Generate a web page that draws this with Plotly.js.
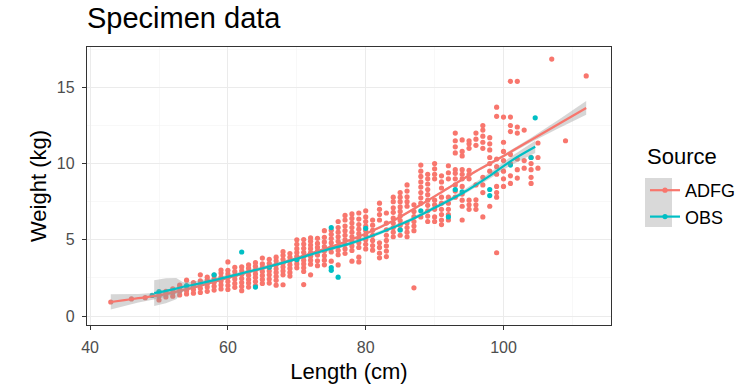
<!DOCTYPE html>
<html>
<head>
<meta charset="utf-8">
<script src="https://cdn.plot.ly/plotly-3.0.1.min.js"></script>
<style>html,body{margin:0;padding:0;background:#fff;}#chart{width:735px;height:388px;}</style>
</head>
<body>
<div id="chart"></div>
<script>
// ---- Data ----
const adfgLengths = [43,46,48,50,51,52,53,54,55,56,57,58,59,60,61,62,63,64,65,66,67,68,69,70,71,72,73,74,75,76,77,78,79,80,81,82,83,84,85,86,87,88,89,90,91,92,93,94,95,96,97,98,99,100,101,102,103,104,105,107,109,112];
const adfgWeights = [
  [0.92],[1.12],[1.2],
  [1.05,1.32,1.48],
  [1.25,1.5,1.62],
  [1.3,1.52,1.78],
  [1.38,1.62,1.84,2.02],
  [1.45,1.68,1.95,2.35],
  [1.5,1.74,1.97,2.2],
  [1.55,1.82,2.06,2.31,2.7],
  [1.62,1.9,2.12,2.36,2.55],
  [1.7,1.96,2.21,2.44,2.68],
  [1.78,2.04,2.3,2.55,2.82,3.02],
  [1.74,2.0,2.26,2.52,2.76,3.0,3.55],
  [1.88,2.14,2.42,2.66,2.92,3.2],
  [1.66,1.94,2.2,2.46,2.72,2.97,3.22],
  [1.9,2.16,2.4,2.67,2.9,3.14,3.36],
  [2.0,2.26,2.52,2.76,3.02,3.26,3.5],
  [2.14,2.4,2.66,2.92,3.16,3.42,3.8],
  [2.16,2.42,2.7,2.96,3.22,3.46,3.72],
  [2.02,2.34,2.6,2.86,3.1,3.36,3.62,3.86],
  [2.05,2.7,2.96,3.22,3.46,3.72,3.98,4.22],
  [2.62,2.86,3.12,3.36,3.62,3.86,4.1],
  [3.16,3.42,3.66,3.92,4.16,4.42,4.7,5.0],
  [2.06,2.92,3.16,3.42,3.66,3.92,4.18,4.44,4.72,5.02],
  [2.7,3.4,3.66,3.92,4.16,4.42,4.66,4.9,5.12],
  [3.3,3.62,4.0,4.26,4.5,4.76,5.1],
  [3.36,3.66,3.96,4.26,4.56,4.86,5.16,5.6],
  [3.6,4.2,4.5,4.8,5.08,5.36,5.62],
  [3.35,4.02,4.3,4.6,4.9,5.2,5.5,5.8,6.2],
  [4.1,4.4,4.7,5.0,5.3,5.6,5.9,6.3,6.6],
  [3.6,4.3,4.6,4.9,5.2,5.5,5.8,6.1,6.4,6.7],
  [3.55,3.86,4.5,4.8,5.1,5.4,5.7,6.0,6.36,6.76],
  [4.4,4.7,5.0,5.3,5.6,5.9,6.2,6.5,6.9],
  [4.32,4.62,4.96,5.3,5.62,5.96,6.3],
  [3.82,4.12,4.5,4.8,6.3,6.66,7.0,7.4],
  [3.9,4.26,4.6,4.96,5.3,5.66,6.1,6.76],
  [5.2,5.5,5.8,6.1,6.42,6.8,7.1,7.5,7.8],
  [5.3,5.66,5.96,6.26,6.56,6.86,7.16,7.5,7.8,8.1],
  [5.2,5.5,5.8,6.1,7.2,7.5,7.82,8.2,8.6],
  [1.85,5.6,5.9,6.2,6.52,6.86,7.3],
  [6.5,7.4,7.76,8.1,8.46,8.8,9.16,9.5,9.9],
  [6.2,6.56,6.9,7.26,7.6,7.96,8.3,8.66,9.0,9.3],
  [6.2,6.5,7.0,7.3,7.6,9.0,9.3,9.66,10.0],
  [6.0,6.3,6.66,7.0,7.4,7.8,8.4,8.8,9.2],
  [6.3,6.66,7.0,7.4,7.8,9.0,9.4,9.86],
  [7.8,8.2,8.6,9.0,9.36,9.6,10.7,11.1,11.5,12.0],
  [6.3,7.2,7.6,8.0,8.5,9.0,9.3,9.6,10.5,10.8,11.55],
  [7.0,7.3,7.6,9.0,9.3,9.56,11.0,11.3,11.5],
  [7.0,7.3,7.62,8.6,11.2,11.6,12.0],
  [6.5,8.1,8.6,9.1,11.0,11.4,11.8,12.2,12.5],
  [7.2,9.5,10.0,10.4,10.9,11.3,11.7],
  [4.15,7.8,8.1,8.5,9.3,9.8,10.3,13.1,13.7],
  [8.5,9.0,9.5,10.2,10.8,11.4,13.05],
  [8.7,9.2,10.0,10.6,12.1,12.5,13.05,15.4],
  [9.05,9.6,10.3,12.0,12.4,15.4],
  [9.7,10.2,12.2],
  [8.7,9.1,9.6,10.0,10.4],
  [9.7,10.4,11.35],
  [16.86],[11.5],[15.75]
];

const obsLength = [49,50,54,58,62,64,66,70,75,75,75,76,80,85,88,92,93,94,98,98,101,104,104.6];
const obsWeight = [1.35,1.6,2.0,2.7,4.2,1.9,3.2,3.7,5.8,3.0,3.18,2.55,5.75,5.65,6.9,6.5,8.3,8.15,7.9,8.3,9.9,10.4,13.0];

// smoothed fits (loess) with standard-error band
const adfgFitX  = [43,45,47,50,53,56,60,64,68,72,76,80,84,88,92,96,100,104,108,112];
const adfgFitY  = [0.92,1.04,1.17,1.35,1.65,1.98,2.5,3.0,3.5,4.1,4.7,5.4,6.25,7.3,8.4,9.5,10.5,11.55,12.6,13.65];
const adfgFitSE = [0.5,0.38,0.28,0.2,0.13,0.1,0.08,0.08,0.08,0.08,0.08,0.08,0.08,0.08,0.08,0.09,0.1,0.15,0.28,0.45];

const obsFitX  = [49.3,51,52.5,53.5,55,58,62,66,70,74,78,82,86,90,94,98,101,104.6];
const obsFitY  = [1.5,1.65,1.8,1.92,2.05,2.35,2.8,3.25,3.75,4.3,4.8,5.45,6.2,7.1,8.05,9.2,10.15,11.1];
const obsFitSE = [0.85,0.82,0.7,0.3,0.22,0.15,0.12,0.12,0.12,0.12,0.12,0.12,0.12,0.13,0.15,0.2,0.28,0.4];

const sources = ['ADFG','OBS'];
const colors = {ADFG:'#F8766D', OBS:'#00BFC4'};

// ---- Build traces ----
const adfgX = [], adfgY = [];
adfgLengths.forEach((L,i)=>adfgWeights[i].forEach(w=>{adfgX.push(L); adfgY.push(w);}));

function band(ys, se, sign){ return ys.map((y,i)=>y+sign*se[i]); }

const ribbonFill = 'rgba(153,153,153,0.4)';
const traces = [
  {x:adfgX, y:adfgY, type:'scatter', mode:'markers', showlegend:false, hoverinfo:'skip',
   marker:{color:colors.ADFG, size:5.2}},
  {x:obsLength, y:obsWeight, type:'scatter', mode:'markers', showlegend:false, hoverinfo:'skip',
   marker:{color:colors.OBS, size:5.2}},
  {x:adfgFitX, y:band(adfgFitY,adfgFitSE,-1), type:'scatter', mode:'lines', line:{width:0}, showlegend:false, hoverinfo:'skip'},
  {x:adfgFitX, y:band(adfgFitY,adfgFitSE,1), type:'scatter', mode:'lines', line:{width:0}, fill:'tonexty', fillcolor:ribbonFill, showlegend:false, hoverinfo:'skip'},
  {x:adfgFitX, y:adfgFitY, type:'scatter', mode:'lines', line:{color:colors.ADFG, width:2.2, shape:'spline'}, showlegend:false},
  {x:obsFitX, y:band(obsFitY,obsFitSE,-1), type:'scatter', mode:'lines', line:{width:0}, showlegend:false, hoverinfo:'skip'},
  {x:obsFitX, y:band(obsFitY,obsFitSE,1), type:'scatter', mode:'lines', line:{width:0}, fill:'tonexty', fillcolor:ribbonFill, showlegend:false, hoverinfo:'skip'},
  {x:obsFitX, y:obsFitY, type:'scatter', mode:'lines', line:{color:colors.OBS, width:2.2, shape:'spline'}, showlegend:false},
  // legend entries
  {x:[null], y:[null], type:'scatter', mode:'lines+markers', name:sources[0], line:{color:colors.ADFG, width:2.2}, marker:{color:colors.ADFG, size:5.2}},
  {x:[null], y:[null], type:'scatter', mode:'lines+markers', name:sources[1], line:{color:colors.OBS, width:2.2}, marker:{color:colors.OBS, size:5.2}}
];

const W = 735, H = 388, ml = 87, mr = 124, mt = 47, mb = 63;
const pw = W-ml-mr, ph = H-mt-mb;
const px = v => (v-ml)/pw, py = v => 1-(v-mt)/ph;

const font = 'Liberation Sans, Arial, Helvetica, sans-serif';
const layout = {
  width:W, height:H,
  margin:{l:ml, r:mr, t:mt, b:mb, pad:0, autoexpand:false},
  paper_bgcolor:'#fff', plot_bgcolor:'#fff',
  font:{family:font, color:'#000'},
  title:{text:'Specimen data', font:{size:29, color:'#000', family:font}, xref:'paper', x:0, xanchor:'left', yref:'container', y:1-18/H, yanchor:'middle'},
  xaxis:{range:[39.55,115.6], tick0:0, dtick:20, ticks:'outside', ticklen:4, tickwidth:1, tickcolor:'#333',
    tickfont:{size:16, color:'#4d4d4d'}, ticklabelstandoff:4, showline:true, mirror:true, linecolor:'#333', linewidth:1.2,
    showgrid:true, gridcolor:'#ebebeb', gridwidth:1, zeroline:false,
    minor:{dtick:10, tick0:0, showgrid:true, gridcolor:'#f4f4f4', gridwidth:0.6},
    title:{text:'Length (cm)', font:{size:22, color:'#000'}, standoff:8}},
  yaxis:{range:[-0.59,17.65], tick0:0, dtick:5, ticks:'outside', ticklen:4, tickwidth:1, tickcolor:'#333',
    tickfont:{size:16, color:'#4d4d4d'}, ticklabelstandoff:4, showline:true, mirror:true, linecolor:'#333', linewidth:1.2,
    showgrid:true, gridcolor:'#ebebeb', gridwidth:1, zeroline:false,
    minor:{dtick:2.5, tick0:0, showgrid:true, gridcolor:'#f4f4f4', gridwidth:0.6},
    title:{text:'Weight (kg)', font:{size:22, color:'#000'}, standoff:4}},
  legend:{x:px(645), xanchor:'left', y:py(172), yanchor:'top', bgcolor:'rgba(0,0,0,0)', traceorder:'normal',
    font:{size:18, color:'#000'}, itemwidth:30, tracegroupgap:0},
  annotations:[
    {text:'Source', xref:'paper', yref:'paper', x:px(645), y:py(156), xanchor:'left', yanchor:'middle', showarrow:false, font:{size:22, color:'#000'}}
  ],
  shapes:[
    {type:'rect', xref:'paper', yref:'paper', x0:px(645), x1:px(672), y0:py(178), y1:py(227), fillcolor:'#d9d9d9', line:{width:0}, layer:'below'}
  ]
};

Plotly.newPlot('chart', traces, layout, {staticPlot:true, displayModeBar:false});
</script>
</body>
</html>
